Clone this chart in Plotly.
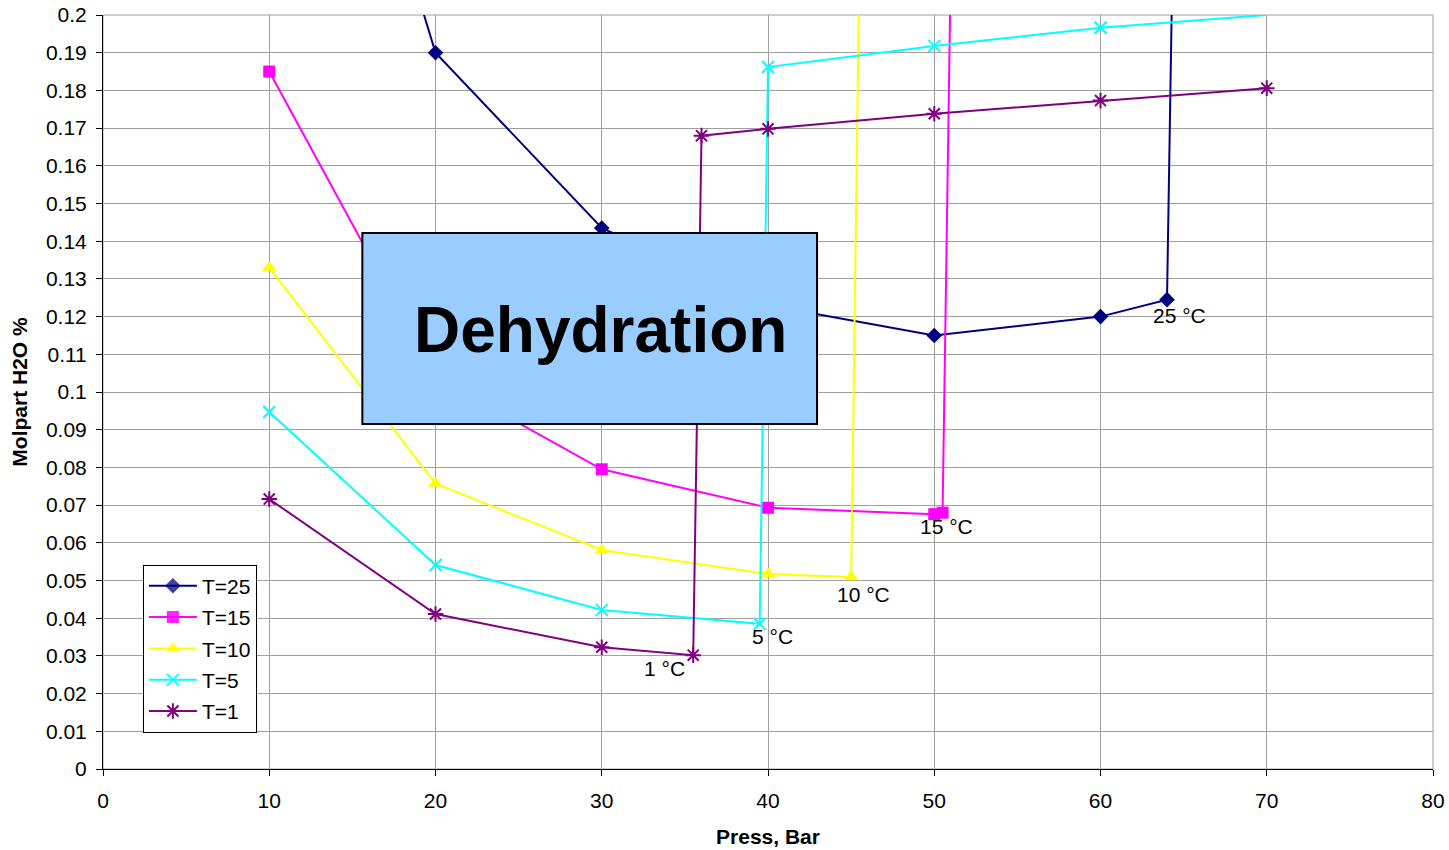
import plotly.graph_objects as go

# Pressure (bar) and water mole fraction (%) for each temperature curve
press_t25 = [10, 20, 30, 40, 50, 60, 64, 64.5]
h2o_t25 = [0.335, 0.190, 0.1435, 0.123, 0.115, 0.120, 0.1245, 0.26]

press_t15 = [10, 20, 30, 40, 50, 50.5, 51]
h2o_t15 = [0.185, 0.104, 0.0795, 0.0693, 0.0676, 0.068, 0.215]

press_t10 = [10, 20, 30, 40, 45, 45.5]
h2o_t10 = [0.133, 0.0757, 0.0581, 0.0517, 0.0509, 0.215]

press_t5 = [10, 20, 30, 39.5, 40, 50, 60, 70]
h2o_t5 = [0.0947, 0.0541, 0.0422, 0.0385, 0.1862, 0.1918, 0.1966, 0.2]

press_t1 = [10, 20, 30, 35.5, 36, 40, 50, 60, 70]
h2o_t1 = [0.0716, 0.0411, 0.0323, 0.0302, 0.1680, 0.1698, 0.1738, 0.1773, 0.1806]

series_names = ["T=25", "T=15", "T=10", "T=5", "T=1"]

# Temperature labels placed at the foot of each rising branch
label_texts = ["25 °C", "15 °C", "10 °C", "5 °C", "1 °C"]
label_x = [64, 50.5, 45, 39.5, 35.5]
label_y = [0.1245, 0.068, 0.0509, 0.0385, 0.0302]

y_tick_vals = [i / 100 for i in range(0, 21)]
y_tick_text = ["0", "0.01", "0.02", "0.03", "0.04", "0.05", "0.06", "0.07", "0.08",
               "0.09", "0.1", "0.11", "0.12", "0.13", "0.14", "0.15", "0.16", "0.17",
               "0.18", "0.19", "0.2"]

FONT = "Liberation Sans, Arial, sans-serif"
Y_TOP = 0.2

styles = [
    dict(color="#000080", symbol="diamond", size=12, line=dict(width=0)),
    dict(color="#FF00FF", symbol="square", size=12, line=dict(width=0)),
    dict(color="#FFFF00", symbol="triangle-up", size=13, line=dict(width=0)),
    dict(color="#00FFFF", symbol="x-thin-open", size=12, line=dict(width=2, color="#00FFFF")),
    dict(color="#800080", symbol="asterisk-open", size=13, line=dict(width=2, color="#800080")),
]

xs = [press_t25, press_t15, press_t10, press_t5, press_t1]
ys = [h2o_t25, h2o_t15, h2o_t10, h2o_t5, h2o_t1]

fig = go.Figure()
for name, x, y, st in zip(series_names, xs, ys, styles):
    marker = dict(st)
    # points on or beyond the top of the axis carry no visible marker
    marker["opacity"] = [1 if v < Y_TOP else 0 for v in y]
    fig.add_trace(go.Scatter(
        x=x, y=y, name=name, legendgroup=name,
        mode="lines+markers",
        line=dict(color=st["color"], width=2),
        marker=marker,
    ))

# Temperature annotations
shifts = [(12, -16), (4, -14), (12, -17), (13, -13), (-29, -13)]
for txt, lx, ly, (dx, dy) in zip(label_texts, label_x, label_y, shifts):
    fig.add_annotation(x=lx, y=ly, text=txt, showarrow=False,
                       xshift=dx, yshift=dy,
                       font=dict(family=FONT, size=21, color="black"))

# Plot-area frame (top and right edges)
fig.add_shape(type="rect", xref="paper", yref="paper", x0=0, y0=0, x1=1, y1=1,
              line=dict(color="#A0A0A0", width=1), layer="below")

# "Dehydration" box
fig.add_shape(type="rect", xref="x", yref="y", x0=15.6, x1=42.95, y0=0.0915, y1=0.1422,
              fillcolor="#99CCFF", line=dict(color="black", width=2), layer="above")
fig.add_annotation(x=29.95, y=0.1165, text="<b>Dehydration</b>", showarrow=False,
                   font=dict(family=FONT, size=64, color="black"))

fig.update_layout(
    width=1449, height=850,
    margin=dict(l=103, r=16, t=15, b=81, autoexpand=False),
    paper_bgcolor="white", plot_bgcolor="white",
    font=dict(family=FONT, size=21, color="black"),
    showlegend=True,
    legend=dict(x=0.030, y=0.271, xanchor="left", yanchor="top",
                bgcolor="white", bordercolor="black", borderwidth=1,
                font=dict(family=FONT, size=21, color="black"),
                tracegroupgap=1, traceorder="grouped", itemwidth=48),
    xaxis=dict(range=[0, 80], dtick=10, tick0=0, automargin=False,
               showgrid=True, gridcolor="#A0A0A0", gridwidth=1,
               zeroline=False, showline=True, linecolor="black", linewidth=1,
               ticks="outside", ticklen=6, tickcolor="black", ticklabelstandoff=7,
               tickfont=dict(family=FONT, size=21),
               title=dict(text="<b>Press, Bar</b>", font=dict(family=FONT, size=21), standoff=18)),
    yaxis=dict(range=[0, Y_TOP], tickvals=y_tick_vals, ticktext=y_tick_text, automargin=False,
               showgrid=True, gridcolor="#A0A0A0", gridwidth=1,
               zeroline=False, showline=True, linecolor="black", linewidth=1,
               ticks="outside", ticklen=6, tickcolor="black", ticklabelstandoff=5,
               tickfont=dict(family=FONT, size=21),
               title=dict(text="<b>Molpart H2O %</b>", font=dict(family=FONT, size=21), standoff=12)),
)

fig.write_html("out.html")
